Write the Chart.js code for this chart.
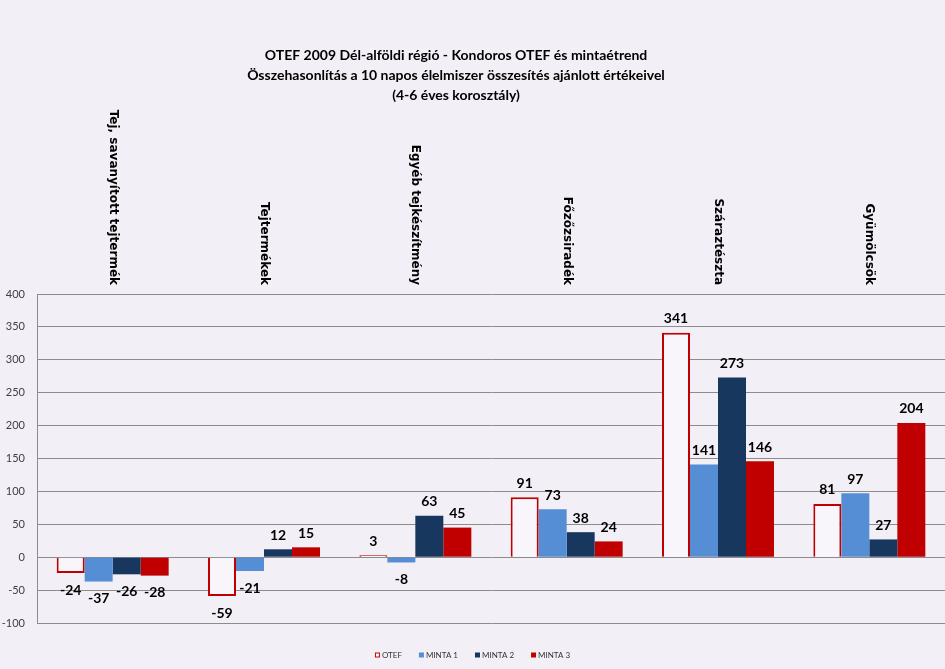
<!DOCTYPE html>
<html>
<head>
<meta charset="utf-8">
<script src="https://cdn.jsdelivr.net/npm/chart.js@4/dist/chart.umd.min.js"></script>
<style>
  html, body { margin: 0; padding: 0; background: #f2eff6; }
</style>
</head>
<body>
<canvas id="grafikon" width="945" height="669"></canvas>
<script>
/* ---- adatok ---- */
const cim = [
  'OTEF 2009 Dél-alföldi régió - Kondoros OTEF és mintaétrend',
  'Összehasonlítás a 10 napos élelmiszer összesítés ajánlott értékeivel',
  '(4-6 éves korosztály)'
];
const kategoriak = ['Tej, savanyított tejtermék', 'Tejtermékek', 'Egyéb tejkészítmény', 'Főzőzsiradék', 'Száraztészta', 'Gyümölcsök'];
const otef   = [-24, -59, 3, 91, 341, 81];
const minta1 = [-37, -21, -8, 73, 141, 97];
const minta2 = [-26, 12, 63, 38, 273, 27];
const minta3 = [-28, 15, 45, 24, 146, 204];
const yMin = -100, yMax = 400, yLepes = 50;

const HATTER = '#f2eff6';
const RACS = '#8c8c8c';

/* háttér, cím, kategóriák, értékcímkék és jelmagyarázat */
const rajz = {
  id: 'rajz',
  beforeDraw(chart) {
    const ctx = chart.ctx;
    ctx.save();
    ctx.fillStyle = HATTER;
    ctx.fillRect(0, 0, chart.width, chart.height);
    ctx.restore();
  },
  afterDatasetsDraw(chart) {
    const ctx = chart.ctx;
    const x = chart.scales.x;
    const top = chart.chartArea.top;
    ctx.save();
    ctx.fillStyle = '#000';

    // cím
    ctx.font = 'bold 14px Lato';
    ctx.textAlign = 'center';
    ctx.textBaseline = 'middle';
    cim.forEach((s, i) => ctx.fillText(s, 456, 55 + i * 20));

    // kategórianevek fent, függőlegesen
    ctx.font = 'bold 12px "DejaVu Sans"';
    kategoriak.forEach((k, i) => {
      ctx.save();
      ctx.translate(x.getPixelForValue(i), top - 9);
      ctx.rotate(Math.PI / 2);
      ctx.textAlign = 'right';
      ctx.textBaseline = 'middle';
      ctx.fillText(k, 0, 0);
      ctx.restore();
    });

    // értékcímkék
    ctx.font = 'bold 14px Lato';
    ctx.textAlign = 'center';
    chart.data.datasets.forEach((ds, i) => {
      chart.getDatasetMeta(i).data.forEach((bar, j) => {
        const v = ds.data[j];
        ctx.fillText(String(v), bar.x, v >= 0 ? bar.y - 14 : bar.y + 17);
      });
    });

    // jelmagyarázat
    ctx.font = '8px Lato';
    ctx.textAlign = 'left';
    const doboz = 5, res = 2, koz = 17, ly = 655;
    const szel = chart.data.datasets.map(ds => doboz + res + ctx.measureText(ds.label).width);
    let lx = chart.width / 2 - (szel.reduce((a, b) => a + b, 0) + koz * (szel.length - 1)) / 2;
    chart.data.datasets.forEach((ds, i) => {
      ctx.fillStyle = ds.legendFill;
      ctx.fillRect(lx, ly - doboz / 2, doboz, doboz);
      if (ds.borderWidth) {
        ctx.strokeStyle = ds.borderColor;
        ctx.lineWidth = 1;
        ctx.strokeRect(lx + 0.5, ly - doboz / 2 + 0.5, doboz - 1, doboz - 1);
      }
      ctx.fillStyle = '#333';
      ctx.fillText(ds.label, lx + doboz + res, ly + 0.5);
      lx += szel[i] + koz;
    });
    ctx.restore();
  }
};

new Chart(document.getElementById('grafikon'), {
  type: 'bar',
  data: {
    labels: kategoriak,
    datasets: [
      { label: 'OTEF', data: otef, backgroundColor: '#f8f6fb', legendFill: '#ffffff', borderColor: '#c00000', borderWidth: 2 },
      { label: 'MINTA 1', data: minta1, backgroundColor: '#558ed5', legendFill: '#558ed5', borderWidth: 0 },
      { label: 'MINTA 2', data: minta2, backgroundColor: '#17375e', legendFill: '#17375e', borderWidth: 0 },
      { label: 'MINTA 3', data: minta3, backgroundColor: '#c00000', legendFill: '#c00000', borderWidth: 0 }
    ]
  },
  options: {
    responsive: false,
    animation: false,
    categoryPercentage: 0.74,
    barPercentage: 1,
    layout: { padding: { top: 294, bottom: 46, left: 0, right: 0 } },
    plugins: { legend: { display: false }, title: { display: false }, tooltip: { enabled: false } },
    scales: {
      x: { display: false },
      y: {
        min: yMin, max: yMax,
        afterFit: s => { s.width = 37; },
        ticks: { stepSize: yLepes, padding: 12, color: '#404040', font: { family: 'Lato', size: 11 } },
        grid: { color: RACS, drawTicks: false },
        border: { color: RACS }
      }
    }
  },
  plugins: [rajz]
});
</script>
</body>
</html>
